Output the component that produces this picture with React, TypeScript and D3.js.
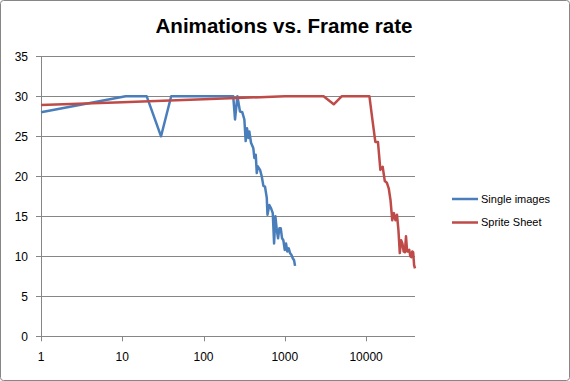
import React from "react";
import * as d3 from "d3";

const title = "Animations vs. Frame rate";
const yTicks = [0, 5, 10, 15, 20, 25, 30, 35];
const xTicks = [1, 10, 100, 1000, 10000];

const seriesNames = ["Single images", "Sprite Sheet"];
const seriesColors = ["#4A7EBB", "#BE4B48"];

const singleX = [1, 11, 20, 30, 40, 100, 200, 232, 244, 261, 281, 300, 318, 330, 343, 356, 366, 384, 410, 422, 439, 452, 465, 496, 520, 545, 571, 600, 612, 645, 678, 711, 738, 766, 797, 826, 857, 892, 925, 960, 998, 1035, 1074, 1118, 1160, 1204, 1253, 1300, 1337];
const singleY = [28, 30, 30, 25, 30, 30, 30, 30, 27.1, 30, 28.1, 28, 27.1, 24.4, 26, 24.8, 25.6, 24.2, 23.5, 22.3, 22.7, 20.4, 21.25, 20.8, 20, 18.8, 18.7, 17.3, 15.2, 16.4, 16, 15.4, 11.6, 15, 13.3, 12.25, 13.5, 13.5, 12.25, 12, 10.8, 11.6, 10.6, 11, 10.4, 10.2, 9.75, 9.5, 8.8];

const spriteX = [1, 10, 100, 1000, 2000, 3000, 4000, 5000, 6000, 7000, 8000, 9000, 10000, 11000, 12000, 13000, 14000, 15000, 16000, 17000, 18000, 19000, 20000, 21000, 22000, 23000, 24000, 25000, 26000, 27000, 28000, 29000, 30000, 31000, 32000, 33000, 34000, 35000, 36000, 37000, 38000, 39000, 40000];
const spriteY = [28.9, 29.27, 29.63, 30, 30, 30, 29, 30, 30, 30, 30, 30, 30, 30, 27, 24.3, 24.3, 20.8, 21.2, 19.4, 19.2, 18.5, 17, 14.5, 15.4, 14.5, 15.2, 13.3, 10.4, 12, 11.6, 10.6, 10.5, 12.5, 10.6, 10.6, 10.8, 10, 9.9, 10.6, 10.5, 8.9, 8.5];

const W = 570;
const H = 381;
const plot = { left: 41, right: 415, top: 56.3, bottom: 336.3 };
const FONT = "'Liberation Sans', Arial, sans-serif";

export default function App() {
  const x = d3.scaleLog().domain([1, 40000]).range([plot.left, plot.right]);
  const y = d3.scaleLinear().domain([0, 35]).range([plot.bottom, plot.top]);
  const line = d3
    .line<[number, number]>()
    .x((d) => x(d[0]))
    .y((d) => y(d[1]));
  const series = [
    singleX.map((v, i) => [v, singleY[i]] as [number, number]),
    spriteX.map((v, i) => [v, spriteY[i]] as [number, number]),
  ];
  const grid = "#868686";
  return (
    <svg
      width={W}
      height={H}
      style={{ position: "absolute", left: 0, top: 0, display: "block" }}
      fontFamily={FONT}
    >
      <rect x={0.5} y={0.5} width={W - 1} height={H - 1} fill="#fff" stroke={grid} rx={3} />
      <text
        x={284}
        y={33}
        textAnchor="middle"
        fontSize={20}
        fontWeight="bold"
        textLength={257}
        lengthAdjust="spacingAndGlyphs"
        fill="#000"
      >
        {title}
      </text>
      {yTicks.map((t) => (
        <g key={"y" + t}>
          <line x1={plot.left} x2={plot.right} y1={Math.round(y(t)) + 0.5} y2={Math.round(y(t)) + 0.5} stroke={grid} strokeWidth={1} />
          <line x1={plot.left - 5} x2={plot.left} y1={Math.round(y(t)) + 0.5} y2={Math.round(y(t)) + 0.5} stroke={grid} strokeWidth={1} />
          <text x={28} y={y(t)} dy="0.35em" textAnchor="end" fontSize={12} fill="#000">
            {t}
          </text>
        </g>
      ))}
      <line x1={plot.left + 0.5} x2={plot.left + 0.5} y1={plot.top} y2={plot.bottom} stroke={grid} />
      {xTicks.map((t) => (
        <g key={"x" + t}>
          <line x1={Math.round(x(t)) + 0.5} x2={Math.round(x(t)) + 0.5} y1={plot.bottom} y2={plot.bottom + 5} stroke={grid} />
          <text x={x(t)} y={361} textAnchor="middle" fontSize={12} fill="#000">
            {t}
          </text>
        </g>
      ))}
      {series.map((s, i) => (
        <path key={"s" + i} d={line(s) || ""} fill="none" stroke={seriesColors[i]} strokeWidth={2.5} strokeLinejoin="round" />
      ))}
      {seriesNames.map((n, i) => (
        <g key={"l" + i}>
          <line x1={452} x2={478} y1={199 + i * 23.5} y2={199 + i * 23.5} stroke={seriesColors[i]} strokeWidth={2.5} />
          <text x={481} y={199 + i * 23.5} dy="0.35em" fontSize={11} fill="#000">
            {n}
          </text>
        </g>
      ))}
    </svg>
  );
}
